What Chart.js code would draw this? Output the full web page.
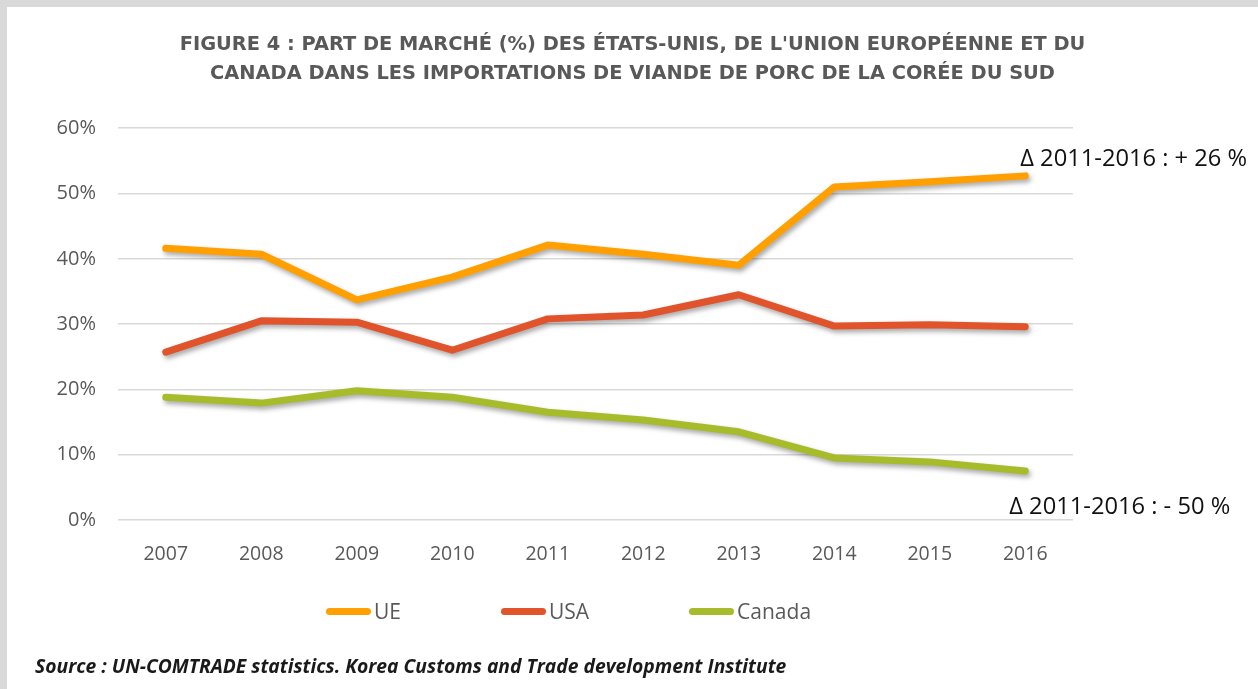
<!DOCTYPE html>
<html>
<head>
<meta charset="utf-8">
<script src="https://cdn.jsdelivr.net/npm/chart.js@4.4.1/dist/chart.umd.min.js"></script>
<style>
  html, body { margin: 0; padding: 0; background: #d9d9d9; width: 1258px; height: 689px; overflow: hidden; }
  #panel { position: absolute; left: 7px; top: 7px; width: 1251px; height: 682px; background: #fff; }
  #chart { position: absolute; left: 0; top: 0; }
  #legend { position: absolute; left: 319px; top: 590px; display: flex; gap: 100px; font: 21px "Open Sans", sans-serif; color: #595959; }
  #legend .item { display: flex; align-items: center; }
  #legend .swatch { width: 45px; height: 7px; border-radius: 4px; margin-right: 3px; }
  #source { position: absolute; left: 28px; top: 645px; font: italic bold 19.3px "Open Sans", sans-serif; color: #1a1a1a; }
</style>
</head>
<body>
<div id="panel">
  <canvas id="chart" width="1251" height="682"></canvas>
  <div id="legend"></div>
  <div id="source">Source : UN-COMTRADE statistics. Korea Customs and Trade development Institute</div>
</div>
<script>
const years = ['2007', '2008', '2009', '2010', '2011', '2012', '2013', '2014', '2015', '2016'];
const ue = [41.6, 40.7, 33.7, 37.2, 42.1, 40.7, 39.0, 51.0, 51.8, 52.7];
const usa = [25.7, 30.5, 30.3, 26.0, 30.8, 31.4, 34.5, 29.7, 29.9, 29.6];
const canada = [18.8, 17.9, 19.8, 18.8, 16.5, 15.3, 13.5, 9.5, 8.9, 7.5];
const notes = ['Δ 2011-2016 : + 26 %', 'Δ 2011-2016 : - 50 %'];

const grey = '#595959';

// soft drop shadow under each line, like the office chart
const shadow = {
    id: 'shadow',
    beforeDatasetDraw(chart) {
        const ctx = chart.ctx;
        ctx.save();
        ctx.shadowColor = 'rgba(0,0,0,0.35)';
        ctx.shadowBlur = 5;
        ctx.shadowOffsetX = 2;
        ctx.shadowOffsetY = 3;
    },
    afterDatasetDraw(chart) {
        chart.ctx.restore();
    }
};

// delta notes next to the 2016 end points
const deltaNotes = {
    id: 'deltaNotes',
    afterDraw(chart) {
        const ctx = chart.ctx;
        const x = chart.scales.x.getPixelForValue(years.length - 1);
        const y = chart.scales.y;
        ctx.save();
        ctx.font = '23.7px "Open Sans", sans-serif';
        ctx.fillStyle = '#111';
        ctx.textBaseline = 'middle';
        ctx.fillText(notes[0], x - 5, y.getPixelForValue(ue[ue.length - 1]) - 17);
        ctx.fillText(notes[1], x - 16, y.getPixelForValue(canada[canada.length - 1]) + 36);
        ctx.restore();
    }
};

const ctx = document.getElementById('chart').getContext('2d');
const chart = new Chart(ctx, {
    type: 'line',
    data: {
        labels: years,
        datasets: [
            { label: 'UE', data: ue, borderColor: '#ffa000', backgroundColor: '#ffa000' },
            { label: 'USA', data: usa, borderColor: '#e0532b', backgroundColor: '#e0532b' },
            { label: 'Canada', data: canada, borderColor: '#a8bb2b', backgroundColor: '#a8bb2b' }
        ].map(d => Object.assign(d, {
            borderWidth: 7,
            pointRadius: 0,
            tension: 0,
            borderCapStyle: 'round',
            borderJoinStyle: 'round',
            fill: false
        }))
    },
    options: {
        responsive: false,
        animation: false,
        layout: { padding: { left: 0, right: 0, bottom: 109 } },
        plugins: {
            title: {
                display: true,
                text: [
                    "FIGURE 4 : PART DE MARCHÉ (%) DES ÉTATS-UNIS, DE L'UNION EUROPÉENNE ET DU",
                    'CANADA DANS LES IMPORTATIONS DE VIANDE DE PORC DE LA CORÉE DU SUD'
                ],
                color: grey,
                font: { family: '"DejaVu Sans", sans-serif', size: 19.4, weight: 'bold', lineHeight: 1.5 },
                padding: { top: 23, bottom: 40 }
            },
            legend: { display: false },
            tooltip: { enabled: false }
        },
        scales: {
            x: {
                offset: true,
                grid: { display: false },
                border: { display: false },
                ticks: { color: grey, font: { family: '"Open Sans", sans-serif', size: 19.5 }, padding: 15 },
                afterFit: s => { s.height = 60; }
            },
            y: {
                min: 0,
                max: 60,
                ticks: {
                    stepSize: 10,
                    color: grey,
                    font: { family: '"Open Sans", sans-serif', size: 20 },
                    padding: 22,
                    callback: v => v + '%'
                },
                grid: { color: '#d9d9d9', lineWidth: 1.5, drawTicks: false },
                border: { display: false },
                afterFit: s => { s.width = 111; }
            },
            // empty axis that keeps the room for the notes on the right
            room: {
                type: 'linear',
                position: 'right',
                grid: { display: false },
                border: { display: false },
                ticks: { display: false },
                afterFit: s => { s.width = 185; }
            }
        }
    },
    plugins: [shadow, deltaNotes]
});

// legend in html, built from the chart datasets
const legend = document.getElementById('legend');
chart.data.datasets.forEach(ds => {
    legend.innerHTML += `
      <div class="item">
        <span class="swatch" style="background:${ds.borderColor}"></span>
        <span>${ds.label}</span>
      </div>`;
});
</script>
</body>
</html>
